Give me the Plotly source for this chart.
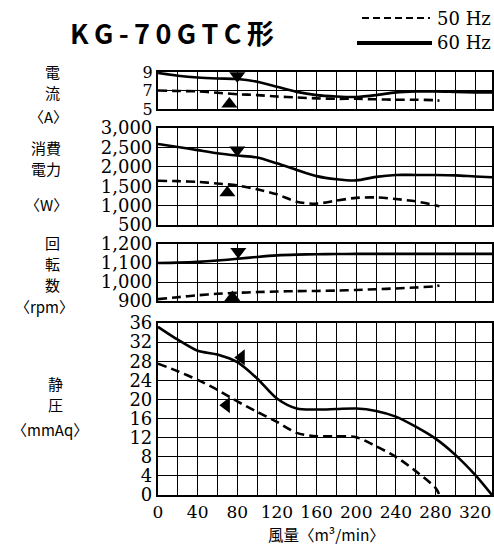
import plotly.graph_objects as go

# ---------------- data ----------------
X60 = [0, 20, 40, 60, 80, 100, 120, 140, 160, 180, 200, 220, 240, 260, 280, 300, 320, 337]
X50 = [0, 20, 40, 60, 80, 100, 120, 140, 160, 180, 200, 220, 240, 260, 280, 284]

current_60 = [8.9, 8.6, 8.4, 8.3, 8.25, 7.95, 7.4, 6.85, 6.5, 6.35, 6.3, 6.5, 6.8, 6.9, 6.9, 6.85, 6.8, 6.8]
current_50 = [7.0, 6.95, 6.9, 6.75, 6.6, 6.5, 6.35, 6.25, 6.15, 6.1, 6.1, 6.05, 6.0, 6.0, 5.95, 5.9]

power_60 = [2590, 2510, 2430, 2350, 2290, 2240, 2090, 1920, 1760, 1680, 1650, 1740, 1790, 1790, 1790, 1780, 1750, 1730]
power_50 = [1640, 1630, 1610, 1570, 1520, 1420, 1290, 1100, 1050, 1130, 1200, 1210, 1170, 1110, 1010, 980]

rpm_60 = [1100, 1102, 1106, 1113, 1122, 1132, 1140, 1144, 1146, 1147, 1148, 1148, 1148, 1148, 1148, 1148, 1148, 1148]
rpm_50 = [910, 920, 930, 938, 943, 947, 950, 952, 953, 955, 958, 962, 966, 971, 978, 982]

static_60 = [35.2, 32.5, 30.2, 29.4, 27.8, 24.4, 20.2, 18.1, 17.9, 18.0, 18.1, 17.6, 16.4, 14.3, 11.8, 8.4, 4.2, 0]
static_50 = [27.5, 25.9, 24.1, 22.0, 19.6, 17.4, 15.3, 13.0, 12.3, 12.3, 12.1, 10.2, 8.0, 5.0, 1.5, 0]

# arrow marks (x, y) per panel: 60 Hz then 50 Hz
arrow_current = [(80, 8.6), (72, 5.55)]
arrow_power = [(80, 2430), (70, 1330)]
arrow_rpm = [(81, 1160), (75, 918)]
arrow_static = [(84, 28.8), (69, 18.8)]

x_ticks = list(range(0, 340, 20))
x_labels = [str(v) if v % 40 == 0 else "" for v in x_ticks]

y_ticks_current = [5, 7, 9]
y_ticks_power = [500, 1000, 1500, 2000, 2500, 3000]
y_ticks_rpm = [900, 1000, 1100, 1200]
y_ticks_static = list(range(0, 40, 4))

# ---------------- layout helpers ----------------
W, H = 494, 545
def px(x):
    return x / W
def py(y):
    return 1 - y / H

XDOM = [px(158), px(492)]
panels = [
    (72, 109, [5, 9], y_ticks_current, current_60, current_50, arrow_current, ["triangle-down", "triangle-up"], 16),
    (128, 225, [500, 3000], y_ticks_power, power_60, power_50, arrow_power, ["triangle-down", "triangle-up"], 18),
    (244, 301, [900, 1200], y_ticks_rpm, rpm_60, rpm_50, arrow_rpm, ["triangle-down", "triangle-up"], 18),
    (323, 495, [0, 36], y_ticks_static, static_60, static_50, arrow_static, ["triangle-left", "triangle-left"], 18),
]

NUMFONT = dict(family="DejaVu Serif", size=18, color="black")
XTICKFONT = dict(family="DejaVu Serif", size=17, color="black")
JPFONT = dict(family="Noto Sans CJK JP", size=15, color="black")

fig = go.Figure()
layout = dict(
    width=W, height=H, margin=dict(l=0, r=0, t=0, b=0, pad=0, autoexpand=False),
    paper_bgcolor="white", plot_bgcolor="white", showlegend=False,
)

for i, (top, bot, yr, yt, s60, s50, arr, syms, fsize) in enumerate(panels, start=1):
    xa = "x" if i == 1 else f"x{i}"
    ya = "y" if i == 1 else f"y{i}"
    fig.add_trace(go.Scatter(x=X60, y=s60, mode="lines", xaxis=xa, yaxis=ya,
                             line=dict(color="black", width=2.6, shape="spline", smoothing=0.8)))
    fig.add_trace(go.Scatter(x=X50, y=s50, mode="lines", xaxis=xa, yaxis=ya,
                             line=dict(color="black", width=2.6, dash="9px,5px", shape="spline", smoothing=0.8)))
    fig.add_trace(go.Scatter(x=[a[0] for a in arr], y=[a[1] for a in arr], mode="markers",
                             xaxis=xa, yaxis=ya, cliponaxis=False,
                             marker=dict(symbol=syms, size=14, color="black")))
    is_last = i == len(panels)
    layout["xaxis" if i == 1 else f"xaxis{i}"] = dict(
        domain=XDOM, range=[0, 337], anchor=ya, automargin=False,
        tickvals=x_ticks, ticktext=x_labels, showticklabels=is_last,
        tickfont=XTICKFONT, ticks="", showgrid=True, gridcolor="black", gridwidth=1.3,
        showline=True, mirror=True, linecolor="black", linewidth=2.2, zeroline=False,
    )
    layout["yaxis" if i == 1 else f"yaxis{i}"] = dict(
        domain=[py(bot), py(top)], range=yr, anchor=xa, automargin=False,
        tickvals=yt, tickformat=",d", tickfont=dict(NUMFONT, size=fsize), ticks="",
        showgrid=True, gridcolor="black", gridwidth=1.3,
        showline=True, mirror=True, linecolor="black", linewidth=2.2, zeroline=False,
    )

fig.update_layout(**layout)

# left-side labels (one annotation per line)
side_labels = [
    ("電", 52, 71), ("流", 52, 92), ("〈A〉", 48, 116),
    ("消費", 46, 147), ("電力", 46, 168), ("〈W〉", 46, 205),
    ("回", 52, 242), ("転", 52, 263), ("数", 52, 284), ("〈rpm〉", 44, 306),
    ("静", 55, 383), ("圧", 55, 404), ("〈mmAq〉", 50, 429),
]
for txt, x, y in side_labels:
    fig.add_annotation(text=txt, x=px(x), y=py(y), xref="paper", yref="paper",
                       showarrow=False, font=JPFONT, xanchor="center", yanchor="middle",
                       borderpad=0)

# title (letter-spaced with thin spaces)
title_txt = "\u2009".join("KG-70GTC形")
fig.add_annotation(text="<b>" + title_txt + "</b>", x=px(172), y=py(33), xref="paper", yref="paper",
                   showarrow=False, font=dict(family="Noto Sans CJK JP", size=27, color="black"),
                   xanchor="center", yanchor="middle")

# x-axis title
fig.add_annotation(text="風量〈m³/min〉", x=px(326), y=py(534), xref="paper", yref="paper",
                   showarrow=False, font=dict(family="Noto Sans CJK JP", size=15.5, color="black"),
                   xanchor="center", yanchor="middle", borderpad=0)

# legend
fig.add_shape(type="line", xref="paper", yref="paper", x0=px(362), x1=px(430), y0=py(18), y1=py(18),
              line=dict(color="black", width=2.2, dash="7px,4px"))
fig.add_shape(type="line", xref="paper", yref="paper", x0=px(357), x1=px(432), y0=py(43), y1=py(43),
              line=dict(color="black", width=4))
fig.add_annotation(text="50 Hz", x=px(435), y=py(18), xref="paper", yref="paper", showarrow=False,
                   font=NUMFONT, xanchor="left", yanchor="middle")
fig.add_annotation(text="60 Hz", x=px(435), y=py(42), xref="paper", yref="paper", showarrow=False,
                   font=NUMFONT, xanchor="left", yanchor="middle")

fig.write_html(
    "out.html",
    config={"displayModeBar": False},
    post_script="document.body.style.margin='0px';document.body.style.overflow='hidden';",
)
